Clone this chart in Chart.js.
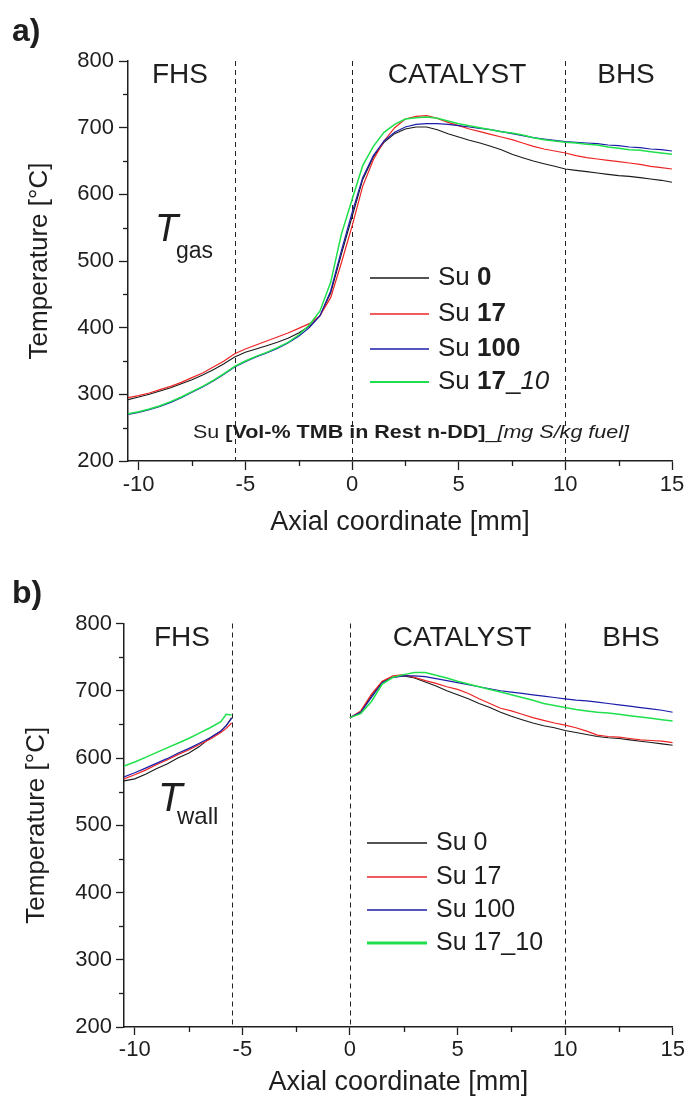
<!DOCTYPE html>
<html><head><meta charset="utf-8">
<script src="https://cdn.jsdelivr.net/npm/chart.js@4/dist/chart.umd.min.js"></script>
<style>
html,body{margin:0;padding:0;background:#fff;}
#wrap{position:relative;width:687px;height:1101px;overflow:hidden;}
canvas{position:absolute;left:0;}
#ca{top:0}
#cb{top:550px}
</style></head><body>
<div id="wrap"><canvas id="ca" width="687" height="550"></canvas><canvas id="cb" width="687" height="551"></canvas></div>
<script>
// ---------- DATA ----------
const seriesNames = ['Su 0', 'Su 17', 'Su 100', 'Su 17_10'];

// Panel a) gas temperature
const gasX = [-10.5,-10,-9.5,-9,-8.5,-8,-7.5,-7,-6.5,-6,-5.5,-5,-4.5,-4,-3.5,-3,-2.5,-2,-1.5,-1,-0.5,0,0.5,1,1.5,2,2.5,3,3.5,4,4.5,5,5.5,6,6.5,7,7.5,8,8.5,9,9.5,10,10.5,11,11.5,12,12.5,13,13.5,14,14.5,15];
const gasSu0   = [292,296,300,305,310,316,322,329,337,346,356,363,368,373,378,384,392,402,418,452,510,566,622,656,678,691,698,701,701,697,691,686,681,677,672,667,660,655,650,646,642,638,636,634,632,630,628,627,625,623,621,618];
const gasSu17  = [295,298,302,307,312,318,325,332,341,350,361,368,374,380,386,392,399,406,418,445,497,552,612,652,680,700,713,717,718,714,708,703,698,694,690,686,682,677,672,668,665,662,658,655,653,651,649,647,645,642,640,638];
const gasSu100 = [270,273,277,282,288,295,303,311,320,330,341,349,356,362,369,377,387,400,418,455,515,572,625,658,680,693,701,705,706,706,705,703,701,699,697,694,691,688,685,683,681,679,678,677,676,674,673,671,670,668,667,665];
const gasSu17_10 = [271,274,278,283,289,296,304,312,321,331,342,350,357,363,370,378,389,404,425,468,540,592,643,672,693,705,713,715,716,714,710,706,703,700,697,694,692,689,685,682,680,678,677,675,674,671,669,667,666,664,662,660];

// Panel b) wall temperature (front heat shield part and catalyst/back heat shield part)
const wallXLeft  = [-10.5,-10,-9.5,-9,-8.5,-8,-7.5,-7,-6.5,-6,-5.75,-5.5];
const wallSu0L   = [566,569,576,584,591,600,607,617,630,640,648,660];
const wallSu17L  = [569,575,582,590,597,605,612,620,628,638,644,652];
const wallSu100L = [572,578,585,592,599,607,614,622,630,640,648,659];
const wallSu17_10L = [588,594,601,608,615,622,629,637,645,654,665,664];

const wallXRight = [0,0.5,1,1.5,2,2.5,3,3.5,4,4.5,5,5.5,6,6.5,7,7.5,8,8.5,9,9.5,10,10.5,11,11.5,12,12.5,13,13.5,14,14.5,15];
const wallSu0R   = [660,668,693,713,720,722,719,713,707,700,694,688,681,675,668,662,657,652,648,645,641,638,635,632,630,629,627,625,623,621,619];
const wallSu17R  = [660,670,695,714,722,724,720,715,711,706,702,696,688,681,674,670,665,660,656,652,649,645,640,634,632,631,629,627,626,625,623];
const wallSu100R = [660,668,690,712,720,722,722,721,718,715,712,709,706,703,700,698,696,694,692,690,688,686,685,683,681,679,677,675,673,671,668];
const wallSu17_10R = [660,666,684,710,720,724,727,727,723,719,714,710,706,702,698,694,690,686,681,678,675,672,670,668,667,665,663,661,659,657,655];

// Axes
const xTicks = [-10,-5,0,5,10,15];
const xMinorTicks = [-7.5,-2.5,2.5,7.5,12.5];
const yTicks = [200,300,400,500,600,700,800];
const yMinorTicks = [250,350,450,550,650,750];
const sectionBounds = [-5.5,0,10];
const sectionLabels = ['FHS','CATALYST','BHS'];

// ---------- STYLE ----------
const FONT = "'Liberation Sans', Arial, Helvetica, sans-serif";
const INK = '#1e1e1e';
const colors = ['#1a1a1a', '#ee2424', '#1c1caa', '#1fe04c'];
const widths = [1.1, 1.2, 1.2, 1.5];

function pts(xs, ys) { return xs.map((x, i) => ({x: x, y: ys[i]})); }
function joinGap(xl, yl, xr, yr) {
  return pts(xl, yl).concat([{x: (xl[xl.length-1] + xr[0]) / 2, y: null}], pts(xr, yr));
}

function drawRich(ctx, parts, x, y, size, targetWidth) {
  ctx.save();
  ctx.textBaseline = 'middle';
  ctx.textAlign = 'left';
  let total = 0;
  for (const [t, s] of parts) { ctx.font = `${s} ${size}px ${FONT}`; total += ctx.measureText(t).width; }
  const sx = targetWidth ? targetWidth / total : 1;
  ctx.translate(x, y);
  ctx.scale(sx, 1);
  let cx = 0;
  for (const [t, s] of parts) {
    ctx.font = `${s} ${size}px ${FONT}`;
    ctx.fillText(t, cx, 0);
    cx += ctx.measureText(t).width;
  }
  ctx.restore();
}

const decor = {
  id: 'decor',
  beforeDatasetsDraw(chart, args, o) {
    const {ctx, chartArea: a, scales: {x}} = chart;
    ctx.save();
    ctx.strokeStyle = '#222';
    ctx.lineWidth = 1;
    ctx.setLineDash([5, 4]);
    for (const b of sectionBounds) {
      const px = Math.round(x.getPixelForValue(b)) + 0.5;
      ctx.beginPath(); ctx.moveTo(px, a.top); ctx.lineTo(px, a.bottom); ctx.stroke();
    }
    ctx.restore();
  },
  afterDraw(chart, args, o) {
    const {ctx, chartArea: a, scales: {x, y}} = chart;
    ctx.save();
    ctx.fillStyle = INK;
    ctx.strokeStyle = INK;
    // minor ticks
    ctx.lineWidth = 1.3;
    for (const v of xMinorTicks) {
      const px = Math.round(x.getPixelForValue(v)) + 0.5;
      ctx.beginPath(); ctx.moveTo(px, a.bottom); ctx.lineTo(px, a.bottom + o.minorLen); ctx.stroke();
    }
    for (const v of yMinorTicks) {
      const py = Math.round(y.getPixelForValue(v)) + 0.5;
      ctx.beginPath(); ctx.moveTo(a.left, py); ctx.lineTo(a.left - o.minorLen, py); ctx.stroke();
    }
    // section labels
    ctx.textAlign = 'center';
    ctx.textBaseline = 'middle';
    ctx.font = `${o.sectionSize}px ${FONT}`;
    sectionLabels.forEach((t, i) => ctx.fillText(t, o.sectionX[i], o.sectionY));
    // panel letter
    ctx.textAlign = 'left';
    ctx.textBaseline = 'alphabetic';
    ctx.font = `bold 32px ${FONT}`;
    ctx.fillText(o.letter, 12, o.letterY);
    // T label
    ctx.font = `italic ${o.tSize}px ${FONT}`;
    ctx.fillText('T', o.tX, o.tY);
    ctx.font = `${o.subSize}px ${FONT}`;
    ctx.fillText(o.sub, o.subX, o.subY);
    // legend
    const L = o.legend;
    chart.data.datasets.forEach((ds, i) => {
      const ly = L.rows[i];
      ctx.save();
      ctx.strokeStyle = ds.borderColor;
      ctx.lineWidth = L.lineW[i];
      ctx.beginPath(); ctx.moveTo(L.x0, ly); ctx.lineTo(L.x1, ly); ctx.stroke();
      ctx.restore();
      drawRich(ctx, L.parts[i], L.tx, ly, L.size);
    });
    if (o.note) drawRich(ctx, o.note.parts, o.note.x, o.note.y, o.note.size, o.note.width);
    ctx.restore();
  }
};

function makeChart(canvas, datasets, P) {
  return new Chart(canvas, {
    type: 'line',
    data: {datasets: datasets},
    plugins: [decor],
    options: {
      responsive: false,
      animation: false,
      devicePixelRatio: 1,
      events: [],
      layout: {padding: {left: 0, top: P.top, right: P.right, bottom: 0}},
      elements: {point: {radius: 0}, line: {tension: 0}},
      plugins: {
        legend: {display: false},
        tooltip: {enabled: false},
        decor: P.decor
      },
      scales: {
        x: {
          type: 'linear', min: -10.5, max: 15,
          afterBuildTicks: s => { s.ticks = xTicks.map(v => ({value: v})); },
          afterFit: s => { s.height = P.xH; },
          ticks: {font: {family: FONT, size: 22}, color: INK, padding: 2, maxRotation: 0, autoSkip: false},
          grid: {drawOnChartArea: false, drawTicks: true, tickLength: P.tickLen, tickColor: INK, tickWidth: 1.3},
          border: {display: true, color: INK, width: 1.5},
          title: {display: true, text: 'Axial coordinate [mm]', color: INK, font: {family: FONT, size: 27}, padding: {top: 0, bottom: P.xTitlePad}}
        },
        y: {
          type: 'linear', min: 200, max: 800,
          afterBuildTicks: s => { s.ticks = yTicks.map(v => ({value: v})); },
          afterFit: s => { s.width = P.yW; },
          ticks: {font: {family: FONT, size: 22}, color: INK, padding: P.yPad},
          grid: {drawOnChartArea: false, drawTicks: true, tickLength: P.tickLen, tickColor: INK, tickWidth: 1.3},
          border: {display: true, color: INK, width: 1.5},
          title: {display: true, text: 'Temperature [°C]', color: INK, font: {family: FONT, size: 26}, padding: {top: P.yTitlePad, bottom: 0}}
        }
      }
    }
  });
}

function mkDs(label, data, i) {
  return {label: label, data: data, borderColor: colors[i], borderWidth: widths[i], pointRadius: 0, spanGaps: false, fill: false, order: 3 - i};
}

// Panel a
const gasSeries = [gasSu0, gasSu17, gasSu100, gasSu17_10];
makeChart(document.getElementById('ca'),
  gasSeries.map((s, i) => mkDs(seriesNames[i], pts(gasX, s), i)),
  {top: 61, right: 15, xH: 89, yW: 128, tickLen: 9, yPad: 5, xTitlePad: 11, yTitlePad: 24,
   decor: {
     minorLen: 5, letter: 'a)', letterY: 41,
     sectionSize: 28, sectionY: 75, sectionX: [180, 457, 626],
     tX: 155, tY: 241, tSize: 38, sub: 'gas', subX: 176, subY: 258, subSize: 23,
     legend: {x0: 370, x1: 429, tx: 438, rows: [278, 314, 349, 382], size: 26, lineW: [1.3, 1.3, 1.4, 2],
       parts: [[['Su ', ''], ['0', 'bold']], [['Su ', ''], ['17', 'bold']], [['Su ', ''], ['100', 'bold']], [['Su ', ''], ['17', 'bold'], ['_', ''], ['10', 'italic']]]},
     note: {x: 193, y: 433, size: 19, width: 436,
       parts: [['Su ', ''], ['[Vol-% TMB in Rest n-DD]', 'bold'], ['_', ''], ['[mg S/kg fuel]', 'italic']]}
   }});

// Panel b
const wallL = [wallSu0L, wallSu17L, wallSu100L, wallSu17_10L];
const wallR = [wallSu0R, wallSu17R, wallSu100R, wallSu17_10R];
makeChart(document.getElementById('cb'),
  wallL.map((s, i) => mkDs(seriesNames[i], joinGap(wallXLeft, s, wallXRight, wallR[i]), i)),
  {top: 73.5, right: 13, xH: 74, yW: 124, tickLen: 8, yPad: 4, xTitlePad: 2, yTitlePad: 21,
   decor: {
     minorLen: 5, letter: 'b)', letterY: 53,
     sectionSize: 28, sectionY: 88, sectionX: [182, 462, 631],
     tX: 158, tY: 261, tSize: 40, sub: 'wall', subX: 177, subY: 274, subSize: 24,
     legend: {x0: 367, x1: 427, tx: 436, rows: [293, 327, 360, 393], size: 25, lineW: [1.3, 1.5, 1.5, 3],
       parts: [[['Su 0', '']], [['Su 17', '']], [['Su 100', '']], [['Su 17_10', '']]]},
     note: null
   }});
</script>
</body></html>
